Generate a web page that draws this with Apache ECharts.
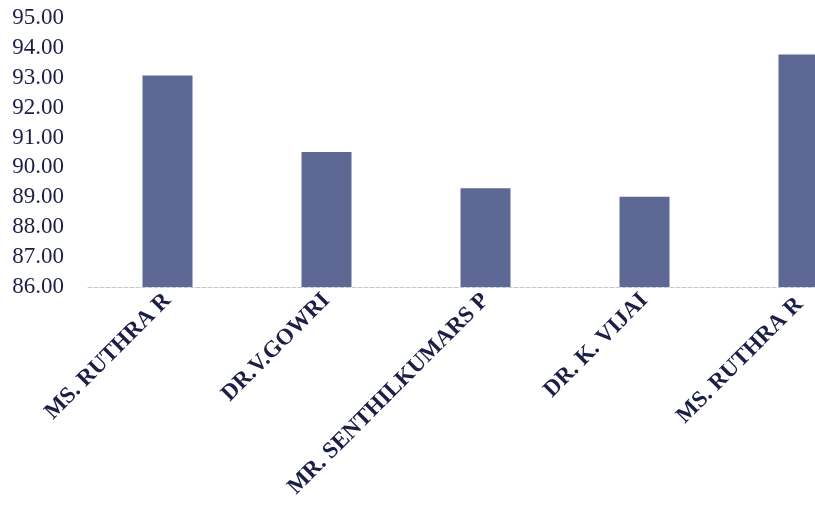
<!DOCTYPE html>
<html><head><meta charset="utf-8">
<script src="https://cdn.jsdelivr.net/npm/echarts@6/dist/echarts.min.js"></script>
<style>html,body{margin:0;padding:0;background:#fff}#c{width:815px;height:514px}</style>
</head><body><div id="c"></div>
<script>
const categories = ["MS. RUTHRA R", "DR.V.GOWRI", "MR. SENTHILKUMARS P", "DR. K. VIJAI", "MS. RUTHRA R "];
const values = [93.08, 90.52, 89.30, 89.02, 93.78];
const yTicks = { min: 86, max: 95, interval: 1 };

const chart = echarts.init(document.getElementById('c'));
chart.setOption({
  backgroundColor: '#ffffff',
  animation: false,
  grid: { left: 88, top: 18, width: 795, height: 269, containLabel: false, outerBoundsMode: 'none' },
  xAxis: {
    type: 'category',
    data: categories,
    axisLine: { show: true, lineStyle: { color: '#c8c8c8', type: 'dashed', width: 1 } },
    axisTick: { show: false },
    axisLabel: {
      interval: 0,
      rotate: 45,
      margin: 10,
      fontFamily: 'Liberation Serif',
      fontWeight: 'bold',
      fontSize: 23,
      color: '#1b1f45'
    }
  },
  yAxis: {
    type: 'value',
    min: yTicks.min,
    max: yTicks.max,
    interval: yTicks.interval,
    axisLine: { show: false },
    axisTick: { show: false },
    splitLine: { show: false },
    axisLabel: {
      margin: 24,
      fontFamily: 'Liberation Serif',
      fontSize: 23,
      color: '#1b1f45',
      formatter: v => v.toFixed(2)
    }
  },
  series: [{
    type: 'bar',
    data: values,
    barWidth: 50,
    itemStyle: { color: '#5d6894' }
  }]
});
</script></body></html>
